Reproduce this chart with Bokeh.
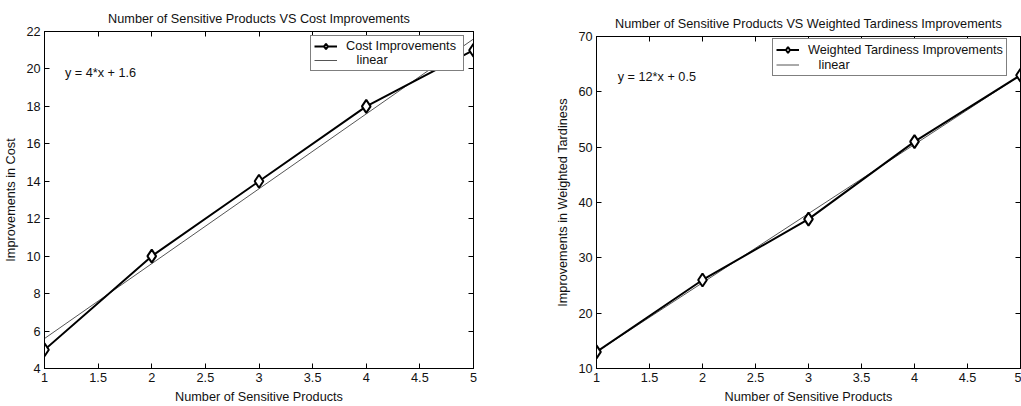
from bokeh.plotting import figure
from bokeh.layouts import row
from bokeh.models import (Label, LinearAxis, Legend, LegendItem, FixedTicker,
                          Range1d, CustomJSTickFormatter)
from bokeh.embed import file_html
from bokeh.resources import INLINE

# ---- data ----
products = [1, 2, 3, 4, 5]
cost_impr = [5, 10, 14, 18, 21]
cost_fit_x = [1, 5]
cost_fit_y = [5.6, 21.6]
tard_impr = [13, 26, 37, 51, 63]
tard_fit_x = [1, 5]
tard_fit_y = [13, 63]
x_ticks = [1, 1.5, 2, 2.5, 3, 3.5, 4, 4.5, 5]
cost_ticks = [4, 6, 8, 10, 12, 14, 16, 18, 20, 22]
tard_ticks = [10, 20, 30, 40, 50, 60, 70]

FONT = "Liberation Sans"
FS = "12.7px"
TXT = "#111111"
fmt_code = "return tick.toString();"


def style_axis(ax, ticks):
    ax.ticker = FixedTicker(ticks=ticks)
    ax.formatter = CustomJSTickFormatter(code=fmt_code)
    ax.major_tick_in = 5
    ax.major_tick_out = 0
    ax.minor_tick_line_color = None
    ax.axis_line_color = "black"
    ax.major_tick_line_color = "black"
    ax.major_label_text_font = FONT
    ax.major_label_text_font_size = FS
    ax.major_label_text_color = TXT
    ax.axis_label_text_font = FONT
    ax.axis_label_text_font_size = FS
    ax.axis_label_text_font_style = "normal"
    ax.axis_label_text_color = TXT
    ax.major_label_standoff = 4
    ax.axis_label_standoff = 5


def tick_only_axis(ticks):
    # box-style axis: only inward ticks, no labels (ticks drawn as minor ticks)
    ax = LinearAxis(ticker=FixedTicker(ticks=[], minor_ticks=ticks))
    ax.axis_line_color = "black"
    ax.major_tick_line_color = None
    ax.major_tick_in = 0
    ax.major_tick_out = 0
    ax.minor_tick_line_color = "black"
    ax.minor_tick_in = 5
    ax.minor_tick_out = 0
    ax.major_label_standoff = 0
    ax.axis_label_standoff = 0
    return ax


def panel(title, ylabel, y, fit_x, fit_y, yr, yticks, width, height, top_margin,
          borders, series_name, eq_text, eq_pos, leg_loc, leg_row_h):
    bl, br, bt, bb = borders
    p = figure(width=width, height=height, output_backend="svg", toolbar_location=None,
               x_range=Range1d(1, 5), y_range=Range1d(*yr),
               min_border_left=bl, min_border_right=br,
               min_border_top=bt, min_border_bottom=bb,
               margin=(top_margin, 0, 0, 0),
               x_axis_label="Number of Sensitive Products", y_axis_label=ylabel)
    p.title.text = title
    p.title.align = "center"
    p.title.text_font = FONT
    p.title.text_font_size = FS
    p.title.text_font_style = "normal"
    p.title.text_color = TXT
    p.title.standoff = 12
    p.grid.visible = False
    p.outline_line_color = "black"
    p.background_fill_color = "white"
    p.border_fill_color = "white"
    style_axis(p.xaxis[0], x_ticks)
    style_axis(p.yaxis[0], yticks)
    p.add_layout(tick_only_axis(x_ticks), "above")
    p.add_layout(tick_only_axis(yticks), "right")

    fit = p.line(fit_x, fit_y, line_color="#555555", line_width=1)
    ln = p.line(products, y, line_color="black", line_width=2)
    mk = p.scatter(products, y, marker="diamond", size=13, line_color="black",
                   line_width=2, fill_color="white")
    legend = Legend(items=[LegendItem(label=series_name, renderers=[ln, mk]),
                           LegendItem(label="\u00a0\u00a0\u00a0linear", renderers=[fit])],
                    location=leg_loc)
    legend.border_line_color = "black"
    legend.border_line_width = 1
    legend.background_fill_alpha = 1
    legend.label_text_font = FONT
    legend.label_text_font_size = FS
    legend.label_text_color = TXT
    legend.glyph_width = 23
    legend.glyph_height = leg_row_h
    legend.label_height = leg_row_h
    legend.spacing = 0
    legend.padding = 3
    legend.margin = 0
    legend.label_standoff = 9
    p.add_layout(legend)
    p.add_layout(Label(x=eq_pos[0], y=eq_pos[1], text=eq_text, text_baseline="middle",
                       text_font=FONT, text_font_size=FS, text_color=TXT))
    return p


left = panel("Number of Sensitive Products VS Cost Improvements", "Improvements in Cost",
             cost_impr, cost_fit_x, cost_fit_y, (4, 22), cost_ticks, 540, 406, 0,
             (44, 67, 31, 37), "Cost Improvements\u00a0", "y = 4*x + 1.6", (1.19, 19.8),
             (266, 297), 14)
right = panel("Number of Sensitive Products VS Weighted Tardiness Improvements",
              "Improvements in Weighted Tardiness",
              tard_impr, tard_fit_x, tard_fit_y, (10, 70), tard_ticks, 481, 401, 5,
              (56, 1, 31, 36), "Weighted Tardiness Improvements", "y = 12*x + 0.5",
              (1.2, 62.6), (176, 292), 15)

layout = row(left, right)
open("out.html", "w").write(file_html(layout, INLINE))
